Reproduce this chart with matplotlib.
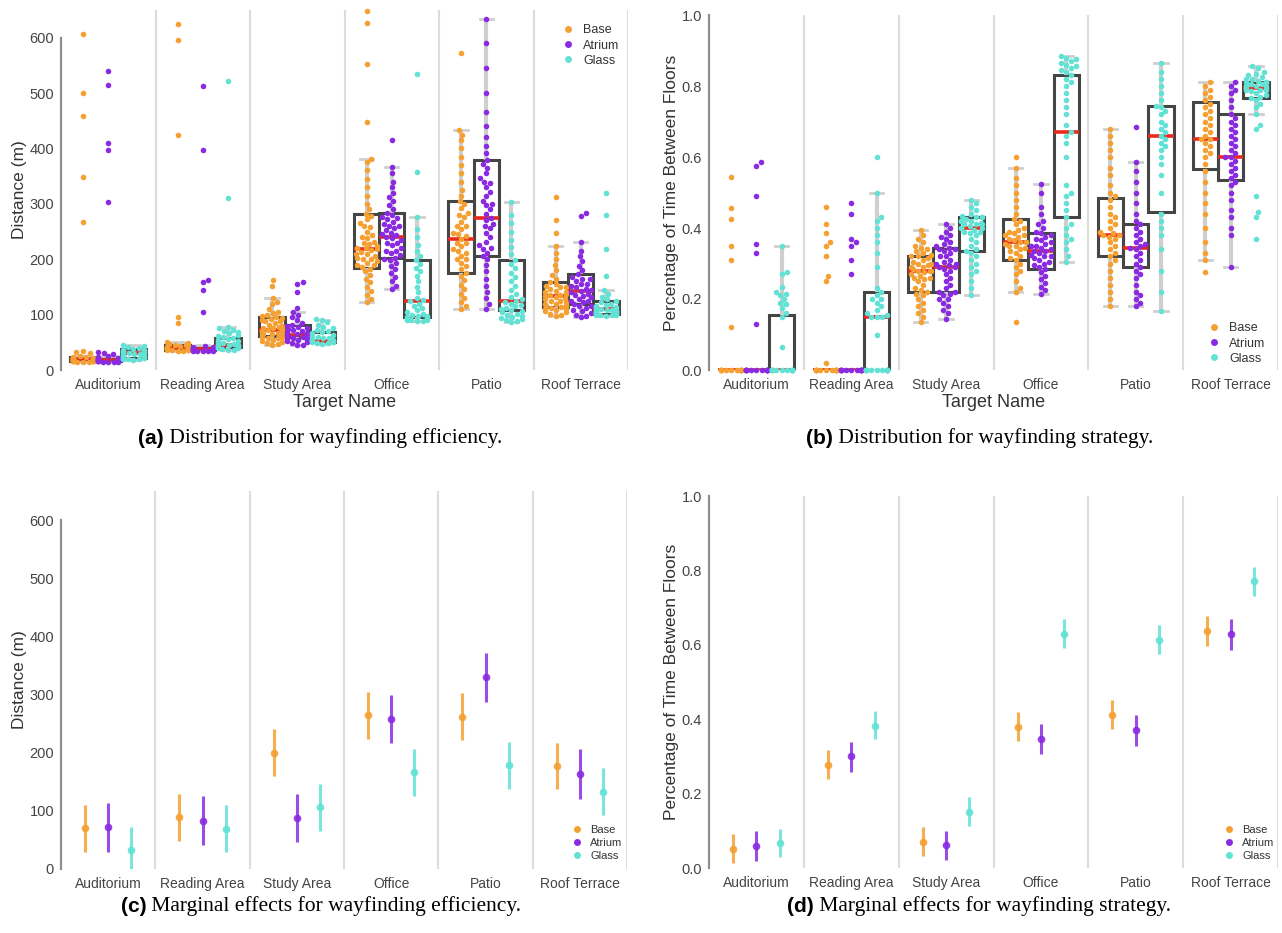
import numpy as np
import matplotlib
matplotlib.use('Agg')
import matplotlib.pyplot as plt
from matplotlib.lines import Line2D

TARGETS = ['Auditorium', 'Reading Area', 'Study Area', 'Office', 'Patio', 'Roof Terrace']
CONDITIONS = ['Base', 'Atrium', 'Glass']
COLORS = ['#f5a032', '#8a2be2', '#62e2d5']

# ---- (a) distance per participant ----
dist_base = [
    [15, 15, 15, 16, 16, 16, 16, 17, 17, 17, 17, 17, 18, 18, 18, 18, 18, 19, 19, 19, 19, 20, 20, 20, 21, 21,
     22, 22, 23, 24, 25, 30, 32, 35, 268, 349, 459, 500, 607],
    [35, 35, 36, 36, 37, 37, 38, 38, 38, 39, 39, 39, 40, 40, 40, 41, 41, 42, 42, 43, 44, 45, 46, 47, 48, 50,
     85, 95, 425, 595, 625],
    [45, 47, 48, 50, 52, 55, 57, 58, 60, 60, 62, 63, 64, 65, 65, 67, 68, 68, 70, 70, 71, 72, 72, 73, 74, 75,
     76, 78, 80, 82, 85, 88, 88, 90, 92, 93, 95, 97, 100, 103, 105, 110, 120, 123, 130, 152, 162],
    [123, 128, 135, 142, 150, 158, 165, 172, 178, 183, 186, 190, 190, 193, 196, 200, 200, 203, 206, 210, 210,
     213, 216, 218, 220, 220, 224, 228, 230, 232, 238, 240, 244, 250, 258, 260, 266, 272, 278, 282, 290, 300,
     315, 330, 345, 362, 375, 381, 447, 553, 627, 648],
    [110, 115, 122, 130, 138, 146, 154, 162, 170, 176, 182, 188, 194, 200, 200, 206, 212, 215, 218, 224, 230,
     230, 236, 242, 245, 248, 254, 260, 260, 268, 276, 280, 284, 292, 300, 305, 315, 325, 340, 355, 370, 385,
     400, 415, 425, 434, 573],
    [98, 100, 102, 104, 106, 108, 110, 110, 112, 114, 115, 116, 118, 120, 120, 122, 125, 125, 128, 130, 131,
     134, 135, 136, 138, 140, 140, 143, 146, 149, 150, 152, 155, 158, 165, 172, 180, 190, 200, 212, 223, 247,
     270, 313],
]
dist_atrium = [
    [14, 15, 15, 15, 16, 16, 16, 16, 17, 17, 17, 17, 18, 18, 18, 18, 19, 19, 19, 20, 20, 21, 21, 22, 23, 25,
     29, 31, 33, 303, 397, 410, 515, 540],
    [34, 34, 35, 35, 35, 36, 36, 36, 37, 37, 37, 38, 38, 38, 39, 39, 40, 40, 41, 42, 43, 105, 145, 158, 162,
     398, 512],
    [45, 46, 48, 50, 52, 54, 55, 56, 58, 59, 60, 61, 62, 63, 64, 65, 66, 68, 70, 72, 74, 76, 78, 80, 82, 85,
     90, 95, 100, 105, 112, 140, 155, 158],
    [146, 152, 160, 168, 175, 182, 188, 193, 198, 200, 203, 207, 211, 215, 215, 220, 225, 230, 230, 235, 238,
     241, 244, 245, 248, 252, 256, 260, 260, 264, 268, 272, 275, 276, 280, 284, 290, 298, 305, 312, 320, 330,
     340, 355, 366, 416],
    [111, 120, 130, 140, 152, 165, 178, 190, 200, 206, 212, 218, 220, 225, 232, 240, 248, 256, 260, 264, 270,
     275, 282, 290, 298, 300, 306, 314, 322, 330, 338, 340, 346, 355, 365, 372, 379, 392, 405, 420, 440, 465,
     500, 545, 590, 634],
    [96, 98, 100, 103, 106, 109, 112, 115, 115, 119, 122, 125, 125, 128, 131, 134, 135, 137, 140, 143, 145,
     146, 149, 152, 155, 156, 160, 164, 165, 168, 173, 180, 188, 196, 205, 215, 231, 278, 283],
]
dist_glass = [
    [18, 19, 20, 20, 21, 22, 22, 23, 24, 25, 26, 27, 28, 29, 30, 30, 31, 32, 33, 34, 35, 36, 37, 38, 40, 42,
     44, 45],
    [36, 37, 38, 39, 40, 41, 42, 43, 44, 45, 45, 46, 47, 48, 50, 52, 54, 56, 58, 60, 62, 64, 66, 68, 70, 72,
     75, 78, 310, 522],
    [47, 48, 49, 50, 50, 51, 52, 52, 53, 53, 54, 55, 56, 57, 58, 60, 62, 64, 66, 68, 70, 72, 75, 78, 82, 86,
     90, 92],
    [88, 89, 90, 90, 91, 92, 93, 94, 95, 96, 97, 98, 100, 102, 105, 108, 112, 116, 120, 124, 126, 130, 140,
     150, 160, 170, 178, 185, 192, 198, 205, 215, 225, 240, 255, 277, 357, 535],
    [86, 88, 90, 92, 94, 96, 98, 100, 102, 104, 106, 108, 110, 112, 115, 118, 120, 123, 125, 128, 132, 138,
     145, 152, 160, 168, 176, 184, 192, 199, 210, 222, 235, 250, 265, 280, 303],
    [98, 99, 100, 100, 100, 101, 101, 102, 102, 102, 103, 104, 104, 105, 106, 106, 107, 108, 108, 109, 110,
     111, 112, 113, 114, 116, 118, 120, 122, 125, 128, 132, 138, 145, 169, 219, 279, 319],
]
# box stats (whisker low, q1, median, q3, whisker high)
dist_box_base = [(15, 17, 19, 23, 26), (35, 37, 40, 46, 50), (45, 62, 72, 95, 130),
                 (123, 185, 218, 281, 381), (110, 176, 236, 305, 434), (98, 114, 134, 158, 223)]
dist_box_atrium = [(14, 16, 18, 21, 25), (34, 36, 38, 42, 45), (45, 59, 63, 81, 105),
                   (146, 203, 241, 283, 366), (111, 206, 275, 379, 634), (96, 119, 143, 173, 231)]
dist_box_glass = [(18, 22, 30, 38, 45), (36, 42, 45, 57, 78), (47, 51, 53, 68, 90),
                  (88, 96, 125, 198, 277), (86, 108, 125, 199, 303), (98, 102, 111, 125, 145)]

# ---- (b) share of time between floors ----
share_base = [
    [0, 0, 0, 0, 0, 0, 0, 0, 0, 0, 0, 0, 0, 0, 0.122, 0.31, 0.35, 0.425, 0.455, 0.545],
    [0, 0, 0, 0, 0, 0, 0, 0, 0, 0, 0, 0, 0, 0, 0.02, 0.25, 0.265, 0.32, 0.35, 0.36, 0.385, 0.41, 0.46],
    [0.135, 0.15, 0.16, 0.17, 0.18, 0.19, 0.2, 0.21, 0.215, 0.22, 0.225, 0.23, 0.24, 0.25, 0.255, 0.26, 0.26,
     0.265, 0.27, 0.275, 0.28, 0.28, 0.28, 0.285, 0.29, 0.29, 0.295, 0.3, 0.3, 0.305, 0.31, 0.315, 0.32,
     0.32, 0.325, 0.33, 0.335, 0.34, 0.345, 0.35, 0.36, 0.37, 0.38, 0.395],
    [0.135, 0.22, 0.23, 0.25, 0.27, 0.28, 0.29, 0.3, 0.31, 0.315, 0.32, 0.33, 0.335, 0.34, 0.345, 0.35, 0.35,
     0.355, 0.36, 0.36, 0.36, 0.365, 0.37, 0.375, 0.38, 0.38, 0.385, 0.39, 0.395, 0.4, 0.41, 0.42, 0.425,
     0.44, 0.46, 0.48, 0.5, 0.52, 0.54, 0.57, 0.6],
    [0.18, 0.2, 0.22, 0.24, 0.26, 0.28, 0.3, 0.31, 0.32, 0.33, 0.34, 0.35, 0.36, 0.37, 0.375, 0.38, 0.38,
     0.385, 0.39, 0.4, 0.41, 0.42, 0.43, 0.44, 0.46, 0.48, 0.49, 0.5, 0.52, 0.55, 0.57, 0.6, 0.62, 0.64,
     0.66, 0.68],
    [0.275, 0.31, 0.33, 0.36, 0.4, 0.44, 0.47, 0.5, 0.53, 0.56, 0.58, 0.6, 0.61, 0.62, 0.63, 0.64, 0.65, 0.65,
     0.66, 0.67, 0.68, 0.69, 0.7, 0.71, 0.72, 0.73, 0.74, 0.75, 0.76, 0.77, 0.78, 0.79, 0.8, 0.81],
]
share_atrium = [
    [0, 0, 0, 0, 0, 0, 0, 0, 0, 0, 0, 0, 0, 0, 0.13, 0.33, 0.355, 0.49, 0.575, 0.585],
    [0, 0, 0, 0, 0, 0, 0, 0, 0, 0, 0, 0, 0, 0, 0.27, 0.31, 0.35, 0.36, 0.37, 0.44, 0.47],
    [0.145, 0.16, 0.17, 0.18, 0.19, 0.2, 0.2, 0.21, 0.215, 0.22, 0.22, 0.23, 0.24, 0.25, 0.26, 0.27, 0.28,
     0.285, 0.29, 0.29, 0.295, 0.3, 0.3, 0.305, 0.31, 0.32, 0.32, 0.33, 0.335, 0.34, 0.34, 0.345, 0.35,
     0.355, 0.36, 0.37, 0.375, 0.38, 0.39, 0.4, 0.41],
    [0.215, 0.225, 0.235, 0.245, 0.255, 0.265, 0.275, 0.285, 0.29, 0.295, 0.3, 0.305, 0.31, 0.315, 0.32,
     0.32, 0.325, 0.33, 0.335, 0.335, 0.34, 0.345, 0.35, 0.35, 0.355, 0.36, 0.365, 0.37, 0.375, 0.38, 0.385,
     0.39, 0.4, 0.41, 0.42, 0.44, 0.46, 0.5, 0.525],
    [0.18, 0.19, 0.2, 0.21, 0.22, 0.24, 0.26, 0.27, 0.28, 0.29, 0.3, 0.31, 0.32, 0.33, 0.34, 0.345, 0.35,
     0.355, 0.36, 0.37, 0.38, 0.39, 0.4, 0.41, 0.42, 0.44, 0.47, 0.5, 0.53, 0.56, 0.585, 0.685],
    [0.29, 0.38, 0.4, 0.43, 0.45, 0.48, 0.5, 0.52, 0.53, 0.54, 0.55, 0.56, 0.57, 0.58, 0.59, 0.6, 0.6, 0.61,
     0.62, 0.63, 0.64, 0.65, 0.66, 0.67, 0.68, 0.69, 0.7, 0.71, 0.72, 0.74, 0.76, 0.78, 0.79, 0.8, 0.81],
]
share_glass = [
    [0, 0, 0, 0, 0, 0, 0, 0, 0, 0, 0, 0, 0, 0, 0.065, 0.15, 0.16, 0.175, 0.185, 0.19, 0.2, 0.21, 0.215, 0.22,
     0.235, 0.27, 0.275, 0.35],
    [0, 0, 0, 0, 0, 0, 0, 0, 0, 0, 0, 0, 0, 0, 0.10, 0.15, 0.15, 0.15, 0.155, 0.16, 0.17, 0.18, 0.19, 0.2,
     0.2, 0.21, 0.22, 0.23, 0.29, 0.33, 0.36, 0.38, 0.4, 0.42, 0.43, 0.5, 0.6],
    [0.21, 0.23, 0.25, 0.27, 0.28, 0.29, 0.3, 0.31, 0.32, 0.33, 0.335, 0.34, 0.35, 0.36, 0.37, 0.38, 0.385,
     0.39, 0.39, 0.395, 0.4, 0.4, 0.4, 0.405, 0.41, 0.41, 0.41, 0.415, 0.42, 0.42, 0.42, 0.425, 0.43, 0.43,
     0.43, 0.435, 0.44, 0.45, 0.46, 0.47, 0.48],
    [0.305, 0.32, 0.34, 0.36, 0.37, 0.38, 0.4, 0.41, 0.43, 0.45, 0.47, 0.49, 0.5, 0.52, 0.6, 0.64, 0.66, 0.67,
     0.69, 0.72, 0.74, 0.76, 0.78, 0.8, 0.81, 0.82, 0.83, 0.84, 0.845, 0.85, 0.855, 0.86, 0.865, 0.87, 0.875,
     0.88, 0.885],
    [0.165, 0.22, 0.28, 0.34, 0.38, 0.4, 0.42, 0.44, 0.5, 0.55, 0.58, 0.6, 0.62, 0.63, 0.64, 0.65, 0.66, 0.67,
     0.68, 0.69, 0.7, 0.72, 0.73, 0.74, 0.745, 0.76, 0.78, 0.8, 0.82, 0.84, 0.865],
    [0.37, 0.43, 0.445, 0.49, 0.68, 0.69, 0.72, 0.74, 0.75, 0.76, 0.765, 0.77, 0.775, 0.78, 0.785, 0.79, 0.79,
     0.79, 0.795, 0.795, 0.8, 0.8, 0.8, 0.8, 0.805, 0.805, 0.81, 0.81, 0.81, 0.815, 0.82, 0.82, 0.825, 0.83,
     0.835, 0.84, 0.85, 0.855],
]
share_box_base = [(0, 0, 0, 0, 0), (0, 0, 0, 0, 0), (0.135, 0.22, 0.28, 0.32, 0.395),
                  (0.22, 0.31, 0.36, 0.425, 0.57), (0.18, 0.32, 0.38, 0.485, 0.68), (0.31, 0.565, 0.65, 0.755, 0.81)]
share_box_atrium = [(0, 0, 0, 0, 0), (0, 0, 0, 0, 0), (0.145, 0.22, 0.29, 0.345, 0.41),
                    (0.215, 0.285, 0.335, 0.385, 0.525), (0.18, 0.29, 0.345, 0.41, 0.585),
                    (0.29, 0.535, 0.60, 0.72, 0.81)]
share_box_glass = [(0, 0, 0, 0.155, 0.35), (0, 0, 0.15, 0.22, 0.50), (0.21, 0.335, 0.40, 0.43, 0.48),
                   (0.305, 0.43, 0.67, 0.83, 0.885), (0.165, 0.445, 0.66, 0.745, 0.865),
                   (0.72, 0.765, 0.795, 0.81, 0.855)]

# ---- (c) marginal effects, distance: (estimate, low, high) ----
eff_base = [(70, 30, 110), (89, 49, 129), (200, 160, 241), (264, 223, 305), (261, 222, 302), (177, 137, 217)]
eff_atrium = [(72, 30, 114), (83, 41, 126), (87, 46, 129), (258, 216, 300), (330, 288, 372), (163, 121, 206)]
eff_glass = [(33, -5, 72), (69, 30, 110), (106, 66, 147), (166, 125, 206), (178, 138, 218), (133, 93, 173)]

# ---- (d) marginal effects, share between floors ----
strat_base = [(0.052, 0.013, 0.091), (0.277, 0.238, 0.316), (0.071, 0.033, 0.11), (0.38, 0.341, 0.42),
              (0.412, 0.373, 0.451), (0.638, 0.598, 0.677)]
strat_atrium = [(0.059, 0.018, 0.099), (0.30, 0.259, 0.34), (0.061, 0.021, 0.10), (0.347, 0.306, 0.388),
                (0.37, 0.329, 0.41), (0.628, 0.587, 0.669)]
strat_glass = [(0.068, 0.029, 0.106), (0.383, 0.346, 0.423), (0.151, 0.113, 0.19), (0.63, 0.591, 0.67),
               (0.613, 0.574, 0.653), (0.771, 0.731, 0.81)]

W, H = 1282, 933
SANS = 'Liberation Sans'
SERIF = 'Liberation Serif'
plt.rcParams['font.family'] = SANS

fig = plt.figure(figsize=(W / 100, H / 100), dpi=100)


def px_axes(l, t, r, b):
    ax = fig.add_axes([l / W, 1 - b / H, (r - l) / W, (b - t) / H])
    ax._px = (r - l, b - t)
    return ax


def style_axes(ax, ymax, yticks, fmt, ylabel):
    ax.set_xlim(-0.5, 5.5)
    ax.set_ylim(0, ymax)
    for s in ['top', 'right', 'bottom']:
        ax.spines[s].set_visible(False)
    ax.spines['left'].set_bounds(0, yticks[-1])
    ax.spines['left'].set_color('#8e8e8e')
    ax.spines['left'].set_linewidth(1.6)
    ax.set_yticks(yticks)
    ax.set_yticklabels([fmt.format(v) for v in yticks])
    ax.set_xticks(range(len(TARGETS)))
    ax.set_xticklabels(TARGETS)
    ax.tick_params(axis='y', length=0, labelsize=10.5, labelcolor='#444444', pad=5)
    ax.tick_params(axis='x', length=0, labelsize=10, labelcolor='#444444', pad=6)
    for x in np.arange(0.5, 6, 1):
        ax.axvline(x, color='#dcdcdc', lw=1.5, zorder=0)
    ax.set_ylabel(ylabel, fontsize=12.5, color='#333333', labelpad=2)


def swarm(vals, ypx, d, half):
    ys = np.asarray(vals, dtype=float) * ypx
    xs = np.zeros(len(ys))
    placed = []
    for i in np.argsort(ys, kind='stable'):
        y = ys[i]
        near = [(px, py) for px, py in placed if abs(py - y) < d]
        cands = [0.0]
        for px, py in near:
            dx = np.sqrt(d * d - (py - y) ** 2)
            cands += [px + dx, px - dx]
        cands.sort(key=lambda c: (round(abs(c), 6), -c))
        pick = cands[-1]
        for c in cands:
            if all((c - px) ** 2 + (y - py) ** 2 >= d * d - 1e-6 for px, py in near):
                pick = c
                break
        xs[i] = pick
        placed.append((pick, y))
    return np.clip(xs, -half, half)


OFFS = [-0.2667, 0.0, 0.2667]
BOXW = 0.2667


def dist_panel(ax, groups, boxes, ymax):
    wpx, hpx = ax._px
    xpx = wpx / 6.0
    ypx = hpx / ymax
    for k in range(3):
        stats = [dict(whislo=b[0], q1=b[1], med=b[2], q3=b[3], whishi=b[4], fliers=[]) for b in boxes[k]]
        pos = [i + OFFS[k] for i in range(6)]
        ax.bxp(stats, positions=pos, widths=BOXW, showfliers=False, patch_artist=True,
               manage_ticks=False, capwidths=0.14,
               boxprops=dict(facecolor='none', edgecolor='#454545', lw=2.2),
               whiskerprops=dict(color='#cfcfcf', lw=3, solid_capstyle='butt'),
               capprops=dict(color='#cfcfcf', lw=2),
               medianprops=dict(color='#e8291c', lw=2.6, solid_capstyle='butt'))
        for i in range(6):
            v = groups[k][i]
            dx = swarm(v, ypx, 5.6, BOXW / 2 * xpx - 2.5) / xpx
            ax.scatter(i + OFFS[k] + dx, v, s=16, color=COLORS[k], linewidths=0,
                       zorder=3, clip_on=False)


def effect_panel(ax, rows):
    for k in range(3):
        for i in range(6):
            m, lo, hi = rows[k][i]
            x = i + OFFS[k] * 0.92
            ax.plot([x, x], [lo, hi], color=COLORS[k], lw=2.2, alpha=0.85, zorder=2,
                    solid_capstyle='butt')
            ax.plot([x], [m], 'o', color=COLORS[k], ms=5.5, alpha=0.9, zorder=3, mec='none')


def add_legend(ax, loc, anchor, size):
    handles = [Line2D([], [], ls='none', marker='o', ms=5, color=c, mec='none') for c in COLORS]
    leg = ax.legend(handles, CONDITIONS, loc=loc, bbox_to_anchor=anchor, frameon=False,
                    fontsize=size, handletextpad=0.6, labelspacing=0.25, borderpad=0,
                    borderaxespad=0, handlelength=1.2)
    for t in leg.get_texts():
        t.set_color('#333333')


# (a)
ax_a = px_axes(61, 10, 628, 370)
style_axes(ax_a, 650, [0, 100, 200, 300, 400, 500, 600], '{:.0f}', 'Distance (m)')
dist_panel(ax_a, [dist_base, dist_atrium, dist_glass],
           [dist_box_base, dist_box_atrium, dist_box_glass], 650)
ax_a.set_xlabel('Target Name', fontsize=13, color='#333333', labelpad=1)
add_legend(ax_a, 'upper right', (0.985, 0.96), 9)

# (b)
ax_b = px_axes(709, 15, 1278, 370)
style_axes(ax_b, 1.0, [0, 0.2, 0.4, 0.6, 0.8, 1.0], '{:.1f}', 'Percentage of Time Between Floors')
dist_panel(ax_b, [share_base, share_atrium, share_glass],
           [share_box_base, share_box_atrium, share_box_glass], 1.0)
ax_b.set_xlabel('Target Name', fontsize=13, color='#333333', labelpad=1)
add_legend(ax_b, 'lower right', (0.978, 0.015), 9)

# (c)
ax_c = px_axes(61, 491, 627, 869)
style_axes(ax_c, 650, [0, 100, 200, 300, 400, 500, 600], '{:.0f}', 'Distance (m)')
effect_panel(ax_c, [eff_base, eff_atrium, eff_glass])
add_legend(ax_c, 'lower right', (0.992, 0.022), 8)

# (d)
ax_d = px_axes(709, 496, 1278, 868)
style_axes(ax_d, 1.0, [0, 0.2, 0.4, 0.6, 0.8, 1.0], '{:.1f}', 'Percentage of Time Between Floors')
effect_panel(ax_d, [strat_base, strat_atrium, strat_glass])
add_legend(ax_d, 'lower right', (0.994, 0.02), 8)

# captions: bold sans tag + serif text
renderer = fig.canvas.get_renderer()


def caption(xc, y, tag, text):
    t1 = fig.text(0, 1 - y / H, tag, fontsize=15, fontweight='bold', family=SANS, va='center')
    t2 = fig.text(0, 1 - y / H, ' ' + text, fontsize=15.5, family=SERIF, va='center')
    w1 = t1.get_window_extent(renderer).width
    w2 = t2.get_window_extent(renderer).width
    x0 = xc - (w1 + w2) / 2
    t1.set_x(x0 / W)
    t2.set_x((x0 + w1) / W)


caption(320, 438, '(a)', 'Distribution for wayfinding efficiency.')
caption(980, 438, '(b)', 'Distribution for wayfinding strategy.')
caption(321, 906, '(c)', 'Marginal effects for wayfinding efficiency.')
caption(979, 906, '(d)', 'Marginal effects for wayfinding strategy.')

fig.savefig('out.png', dpi=100)
